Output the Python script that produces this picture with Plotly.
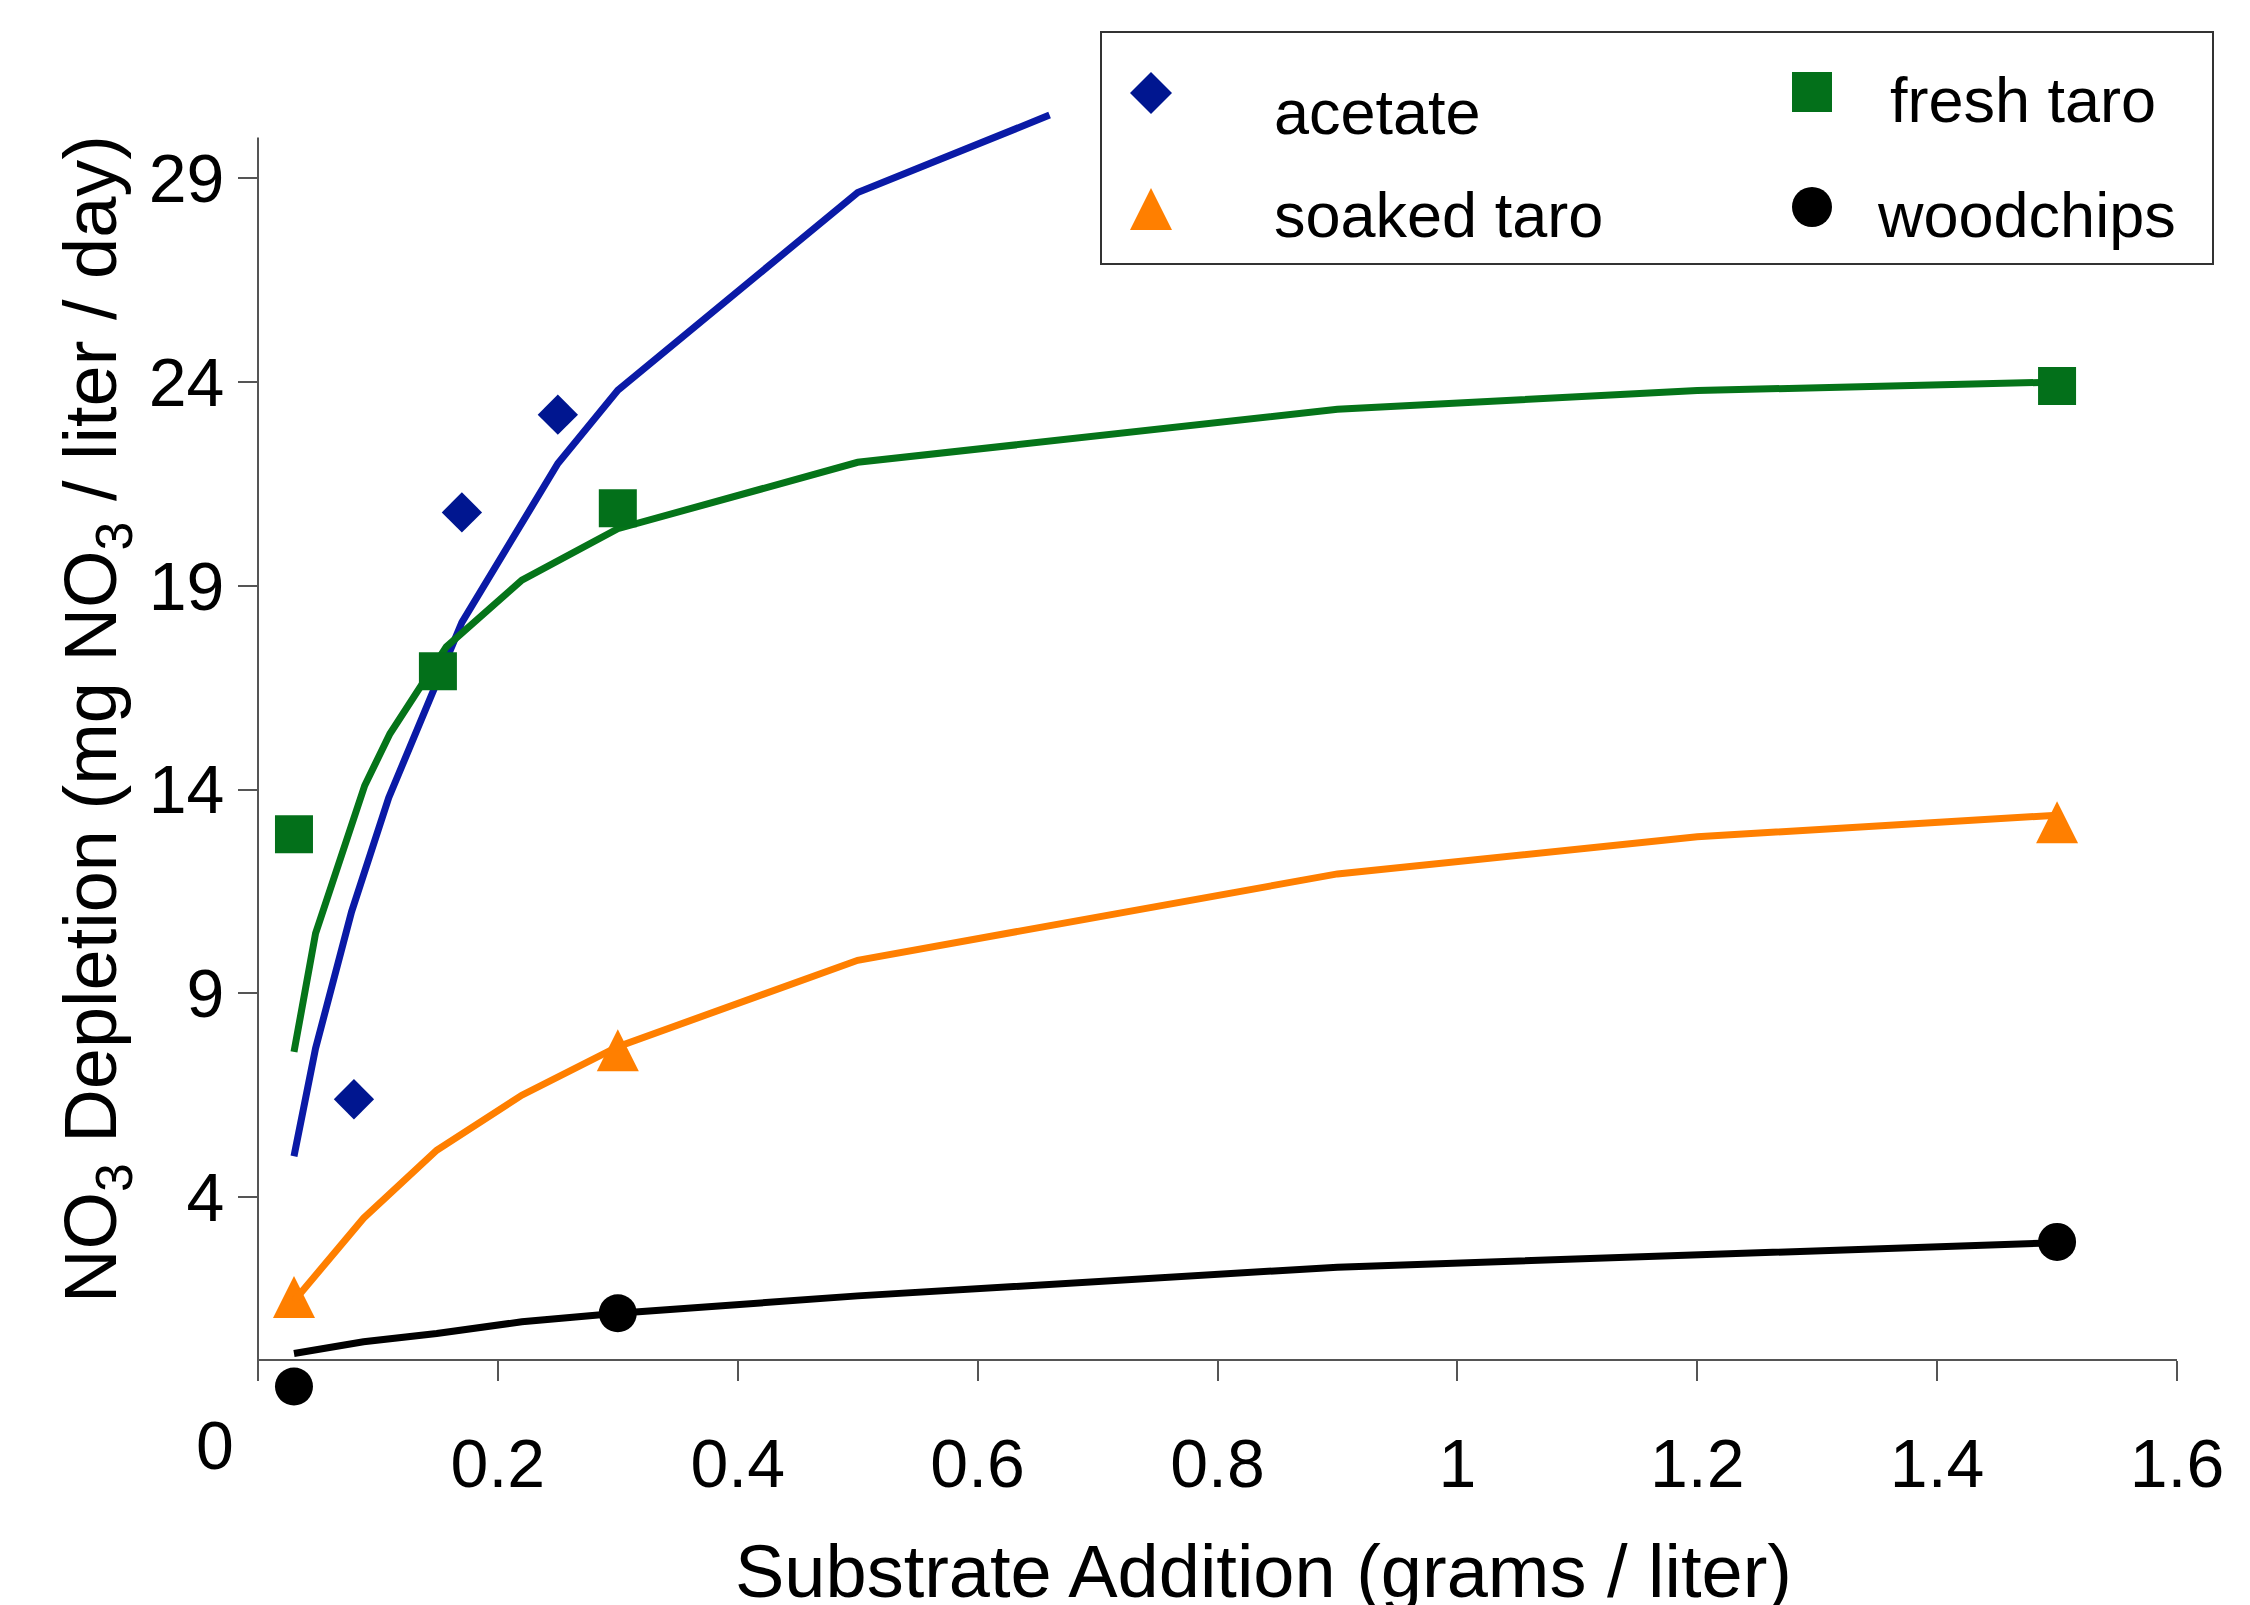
import plotly.graph_objects as go

# ---------------- data ----------------
acetate_x = [0.08, 0.17, 0.25]
acetate_y = [6.4, 20.8, 23.2]
fresh_x = [0.03, 0.15, 0.30, 1.50]
fresh_y = [12.9, 16.9, 20.9, 23.9]
soaked_x = [0.03, 0.30, 1.50]
soaked_y = [1.55, 7.6, 13.2]
wood_x = [0.03, 0.30, 1.50]
wood_y = [-0.65, 1.15, 2.9]

# fitted curves
acetate_fit_x = [0.03, 0.048, 0.078, 0.109, 0.17, 0.25, 0.30, 0.50, 0.66]
acetate_fit_y = [5.0, 7.65, 11.0, 13.8, 18.1, 22.0, 23.8, 28.65, 30.55]
fresh_fit_x = [0.03, 0.048, 0.089, 0.11, 0.157, 0.22, 0.30, 0.50, 0.90, 1.20, 1.50]
fresh_fit_y = [7.56, 10.47, 14.1, 15.37, 17.5, 19.14, 20.4, 22.03, 23.33, 23.79, 24.0]
soaked_fit_x = [0.03, 0.088, 0.149, 0.22, 0.30, 0.50, 0.90, 1.20, 1.50]
soaked_fit_y = [1.45, 3.48, 5.15, 6.5, 7.69, 9.81, 11.93, 12.84, 13.37]
wood_fit_x = [0.03, 0.088, 0.149, 0.22, 0.30, 0.50, 0.90, 1.20, 1.50]
wood_fit_y = [0.16, 0.45, 0.65, 0.94, 1.15, 1.575, 2.28, 2.60, 2.88]

x_tickvals = [0.2, 0.4, 0.6, 0.8, 1.0, 1.2, 1.4, 1.6]
x_ticktext = ["0.2", "0.4", "0.6", "0.8", "1", "1.2", "1.4", "1.6"]
y_tickvals = [4, 9, 14, 19, 24, 29]

series_names = ["acetate", "fresh taro", "soaked taro", "woodchips"]

# ---------------- styling ----------------
FONT = "Liberation Sans, Arial, sans-serif"
BLUE_M, BLUE_L = "#001690", "#0a1aa6"
GREEN_M, GREEN_L = "#03701a", "#057419"
ORANGE = "#ff7f00"
BLACK = "#000000"
AXIS = "#555555"
LW = 7

OFF = 8  # page body margin
W, H = 2250 - OFF, 1605 - OFF
YMIN, YMAX = -1.25, 30.7
ML, MT = 258 - OFF, 101
PW, PH = 1919, 1302
MR, MB = W - ML - PW, H - MT - PH
X_AXIS_POS = (0 - YMIN) / (YMAX - YMIN)


def px(xs):  # screen pixel -> paper
    return (xs - OFF - ML) / PW


def py(ys):
    return (MT + PH - (ys - OFF)) / PH


fig = go.Figure()

# acetate
fig.add_trace(go.Scatter(x=acetate_fit_x, y=acetate_fit_y, mode="lines",
                         line=dict(color=BLUE_L, width=LW), showlegend=False, hoverinfo="skip"))
fig.add_trace(go.Scatter(x=acetate_x, y=acetate_y, mode="markers", name=series_names[0],
                         marker=dict(symbol="diamond", size=31, color=BLUE_M),
                         cliponaxis=False, showlegend=False))
# fresh taro
fig.add_trace(go.Scatter(x=fresh_fit_x, y=fresh_fit_y, mode="lines",
                         line=dict(color=GREEN_L, width=LW), showlegend=False, hoverinfo="skip"))
fig.add_trace(go.Scatter(x=fresh_x, y=fresh_y, mode="markers", name=series_names[1],
                         marker=dict(symbol="square", size=38, color=GREEN_M),
                         cliponaxis=False, showlegend=False))
# soaked taro
fig.add_trace(go.Scatter(x=soaked_x, y=soaked_y, mode="markers", name=series_names[2],
                         marker=dict(symbol="arrow-down", angle=180, size=42, color=ORANGE,
                                     standoff=21),
                         cliponaxis=False, showlegend=False))
fig.add_trace(go.Scatter(x=soaked_fit_x, y=soaked_fit_y, mode="lines",
                         line=dict(color=ORANGE, width=LW), showlegend=False, hoverinfo="skip"))
# woodchips
fig.add_trace(go.Scatter(x=wood_x, y=wood_y, mode="markers", name=series_names[3],
                         marker=dict(symbol="circle", size=38, color=BLACK),
                         cliponaxis=False, showlegend=False))
fig.add_trace(go.Scatter(x=wood_fit_x, y=wood_fit_y, mode="lines",
                         line=dict(color=BLACK, width=LW), showlegend=False, hoverinfo="skip"))

shapes = []
# y-axis line: from below the x axis (tick length) up to 30
shapes.append(dict(type="line", xref="paper", yref="paper", x0=0, x1=0,
                   y0=X_AXIS_POS - 21 / PH, y1=(30 - YMIN) / (YMAX - YMIN),
                   line=dict(color=AXIS, width=2)))
# legend box
shapes.append(dict(type="rect", xref="paper", yref="paper",
                   x0=px(1101), x1=px(2213), y0=py(264), y1=py(32),
                   line=dict(color="#333333", width=2), fillcolor="white", layer="above"))


def sym(xc, yc, **kw):
    d = dict(xref="paper", yref="paper", xsizemode="pixel", ysizemode="pixel",
             xanchor=px(xc), yanchor=py(yc), layer="above", line=dict(width=0))
    d.update(kw)
    return d


shapes.append(sym(1151, 93, type="path", path="M0,21 L21,0 L0,-21 L-21,0 Z", fillcolor=BLUE_M))
shapes.append(sym(1812, 92, type="rect", x0=-20, x1=20, y0=-20, y1=20, fillcolor=GREEN_M))
shapes.append(sym(1151, 209, type="path", path="M-21,-21 L21,-21 L0,21 Z", fillcolor=ORANGE))
shapes.append(sym(1812, 207, type="circle", x0=-20, x1=20, y0=-20, y1=20, fillcolor=BLACK))

annotations = []
leg_font = dict(family=FONT, size=63, color="black")
for text, xl, base in [("acetate", 1272, 133), ("fresh taro", 1888, 121),
                       ("soaked taro", 1272, 236), ("woodchips", 1875, 236)]:
    annotations.append(dict(text=text, xref="paper", yref="paper", x=px(xl), y=py(base - 21),
                            xanchor="left", yanchor="middle", showarrow=False, font=leg_font))
# origin label
annotations.append(dict(text="0", xref="paper", yref="paper", x=px(215), y=py(1445),
                        xanchor="center", yanchor="middle", showarrow=False,
                        font=dict(family=FONT, size=68, color="black")))
# x axis title
annotations.append(dict(text="Substrate Addition (grams / liter)", xref="paper", yref="paper",
                        x=px(1263), y=py(1596 - 24), xanchor="center", yanchor="middle",
                        showarrow=False, font=dict(family=FONT, size=74, color="black")))
# y axis title
annotations.append(dict(text="NO<sub>3</sub> Depletion (mg NO<sub>3</sub> / liter / day)",
                        xref="paper", yref="paper", x=px(96), y=py(719), textangle=-90,
                        xanchor="center", yanchor="middle", showarrow=False,
                        font=dict(family=FONT, size=74, color="black")))

fig.update_layout(
    width=W, height=H,
    margin=dict(l=ML, r=MR, t=MT, b=MB, autoexpand=False),
    plot_bgcolor="white", paper_bgcolor="white",
    font=dict(family=FONT, color="black"),
    shapes=shapes, annotations=annotations,
    showlegend=False,
    xaxis=dict(range=[0, 1.6], tickvals=x_tickvals, ticktext=x_ticktext,
               anchor="free", position=X_AXIS_POS,
               ticks="outside", ticklen=20, tickwidth=2, tickcolor=AXIS,
               showline=True, linecolor=AXIS, linewidth=2,
               showgrid=False, zeroline=False, tickfont=dict(size=68),
               ticklabelstandoff=24, automargin=False),
    yaxis=dict(range=[YMIN, YMAX], tickvals=y_tickvals,
               ticks="outside", ticklen=19, tickwidth=2, tickcolor=AXIS,
               showline=False, showgrid=False, zeroline=False, tickfont=dict(size=68),
               automargin=False),
)

fig.write_html("out.html")
